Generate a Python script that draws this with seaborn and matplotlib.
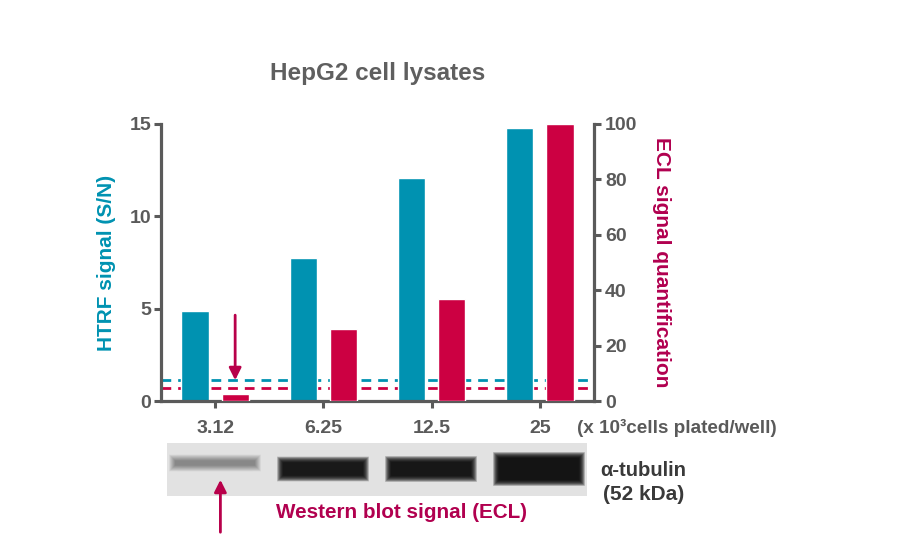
import numpy as np
import pandas as pd
import matplotlib
matplotlib.use("Agg")
import matplotlib.pyplot as plt
import seaborn as sns
from matplotlib.patches import FancyBboxPatch
from matplotlib.transforms import blended_transform_factory

# data
cells = ["3.12", "6.25", "12.5", "25"]
htrf = [4.9, 7.75, 12.1, 14.8]
ecl = [2.5, 26, 36.7, 100]
htrf_cutoff = 1.15
ecl_cutoff = 4.7
# western blot bands (relative darkness, thickness in px)
blot_strength = [0.22, 0.92, 0.95, 1.0]
blot_thickness = [5, 13, 14, 22]

teal = "#0092B1"
crimson = "#CC0042"
text_crimson = "#B1004F"
grey = "#5A5A5A"

sns.set_theme(style="white")
plt.rcParams["font.family"] = ["Liberation Sans", "DejaVu Sans"]
plt.rcParams["font.weight"] = "bold"

fig = plt.figure(figsize=(9, 5.4), dpi=100)

df = pd.DataFrame({
    "cells": cells * 2,
    "series": ["HTRF"] * 4 + ["ECL"] * 4,
    "htrf": htrf + [np.nan] * 4,
    "ecl": [np.nan] * 4 + ecl,
})

ax = fig.add_axes([161 / 900, 1 - 401 / 540, 433 / 900, 277 / 540])
ax.patch.set_visible(False)
sns.barplot(df, x="cells", y="htrf", hue="series", hue_order=["HTRF", "ECL"],
            palette=[teal, crimson], saturation=1, width=0.74, gap=0.32,
            legend=False, ax=ax)
ax2 = ax.twinx()
sns.barplot(df, x="cells", y="ecl", hue="series", hue_order=["HTRF", "ECL"],
            palette=[teal, crimson], saturation=1, width=0.74, gap=0.32,
            legend=False, ax=ax2)

ax.set_xlim(-0.5, 3.5)
ax.set_ylim(0, 15)
ax2.set_ylim(0, 100)
ax.set_yticks([0, 5, 10, 15])
ax2.set_yticks(range(0, 101, 20))
ax.set_xlabel("")
ax.set_ylabel("HTRF signal (S/N)", color=teal, fontsize=15, fontweight="bold",
              labelpad=10)
ax2.set_ylabel("ECL signal quantification", color=text_crimson, fontsize=15,
               fontweight="bold", rotation=-90, labelpad=24)
ax.set_title("HepG2 cell lysates", color="#5F5F5F", fontsize=17.5, fontweight="bold",
             pad=32)

for a in (ax, ax2):
    for s in a.spines.values():
        s.set_visible(False)
        s.set_color(grey)
        s.set_linewidth(2.3)
ax.spines["left"].set_visible(True)
ax.spines["bottom"].set_visible(True)
ax2.spines["right"].set_visible(True)

ax.tick_params(axis="both", bottom=True, left=True, direction="out", length=5,
               width=2.2, color=grey, labelcolor=grey, labelsize=14)
ax.tick_params(axis="x", pad=9)
ax.tick_params(axis="y", pad=2)
ax2.tick_params(axis="y", right=True, direction="out", length=5, width=2.2,
                color=grey, labelcolor=grey, labelsize=14, pad=3)

# detection cut-offs, behind the bars
ax.axhline(htrf_cutoff, color=teal, lw=2, dashes=(3.5, 2.5), zorder=0.5)
ax.plot([0, 1], [ecl_cutoff] * 2, color=crimson, lw=2, dashes=(3.5, 2.5), zorder=0.5,
        transform=blended_transform_factory(ax.transAxes, ax2.transData))

# arrow onto the weakest ECL bar
first = ax2.patches[0]
x_ecl = first.get_x() + first.get_width() / 2
ax2.annotate("", xy=(x_ecl, 6.5), xytext=(x_ecl, 32),
             arrowprops=dict(arrowstyle="-|>", color="#B8004A", lw=2, mutation_scale=18))

fig.text(577 / 900, 1 - 428 / 540, "(x 10³cells plated/well)", color=grey,
         fontsize=13.6, va="center", ha="left")

# western blot strip under the chart
axb = fig.add_axes([167 / 900, 1 - 496 / 540, 420 / 900, 53 / 540])
axb.set_xlim((167 - 215) / 108, (587 - 215) / 108)
axb.set_ylim(0, 53)
axb.set_facecolor("#e2e2e2")
axb.set_xticks([])
axb.set_yticks([])
for s in axb.spines.values():
    s.set_visible(False)
for i, (st, th) in enumerate(zip(blot_strength, blot_thickness)):
    yc = 33 if i == 0 else 27
    for grow in range(12, -1, -1):
        w = 0.74 + grow / 108
        h = th + grow
        axb.add_patch(FancyBboxPatch((i - w / 2, yc - h / 2), w, h,
                                     boxstyle="round,pad=0,rounding_size=0.07",
                                     fc="black", ec="none", alpha=st * 0.16))
axb.annotate("", xy=(0.05, 19), xytext=(0.05, -39), annotation_clip=False,
             arrowprops=dict(arrowstyle="-|>", color="#B8004A", lw=2, mutation_scale=18))

fig.text(600 / 900, 1 - 470 / 540, "α-tubulin", color="#3A3A3A", fontsize=14.6, va="center")
fig.text(603 / 900, 1 - 494 / 540, "(52 kDa)", color="#3A3A3A", fontsize=15, va="center")
fig.text(401 / 900, 1 - 512 / 540, "Western blot signal (ECL)", color=text_crimson,
         fontsize=14.9, va="center", ha="center")

fig.savefig("out.png", dpi=100)
